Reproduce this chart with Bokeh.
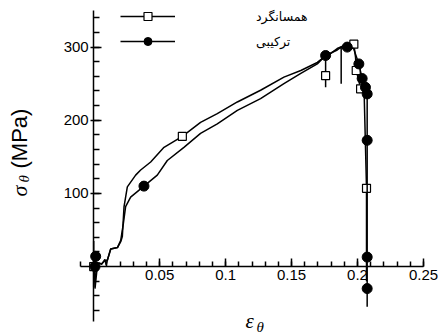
from math import pi
from bokeh.plotting import figure
from bokeh.models import (Range1d, LinearAxis, FixedTicker, Label, Legend,
                          LegendItem, PrintfTickFormatter)
from bokeh.embed import file_html
from bokeh.resources import INLINE

# ---- data ----
iso_eps = [0.0, 0.0, 0.0, 0.001, 0.004, 0.006, 0.0085, 0.0095, 0.0104, 0.0129,
           0.018, 0.0205, 0.0217, 0.023, 0.0255, 0.0318, 0.0356, 0.0432, 0.0533,
           0.0672, 0.081, 0.0937, 0.1089, 0.1265, 0.1442, 0.157, 0.1695, 0.1758,
           0.1758, 0.1758, 0.1795, 0.1846, 0.1896, 0.1947, 0.1972, 0.1985, 0.199,
           0.201, 0.2023, 0.205, 0.2068, 0.2068]
iso_sig = [0, 35, -28, 0, 5, 3, 10, 2, 9, 24,
           26, 34, 41, 82, 109, 125, 132, 143, 163,
           178, 197, 209, 225, 241, 259, 268, 279, 288,
           245, 288, 291, 298, 302, 302, 304, 286, 268,
           254, 243, 238, 107, -20]
iso_mk_eps = [0.0, 0.0672, 0.1758, 0.1972, 0.199, 0.2023, 0.2068]
iso_mk_sig = [0, 178, 261, 304, 268, 243, 107]

comb_eps = [0.0, 0.001, 0.001, 0.003, 0.006, 0.0085, 0.0104, 0.0129, 0.018,
            0.0205, 0.0225, 0.0242, 0.028, 0.0381, 0.0482, 0.0558, 0.0684,
            0.081, 0.0937, 0.1089, 0.1265, 0.1442, 0.157, 0.1695, 0.1758,
            0.1846, 0.1876, 0.1876, 0.1876, 0.1922, 0.197, 0.201, 0.2035,
            0.206, 0.2073, 0.2073, 0.2073, 0.2073, 0.2073]
comb_sig = [0, 14, -30, 5, 4, 8, 9, 24, 26,
            36, 59, 82, 95, 110, 125, 145, 163,
            182, 195, 213.5, 229.5, 250, 264, 277, 288.5,
            296, 300, 250, 300, 300, 298, 277, 257,
            245, 236, 172.6, 13, -30, -55]
comb_mk_eps = [0.0015, 0.001, 0.0381, 0.1758, 0.1922, 0.201, 0.2035, 0.206,
               0.2073, 0.2073, 0.2073, 0.2073]
comb_mk_sig = [14, 0, 110, 288.5, 300, 277, 257, 245, 236, 172.6, 13, -30]

series_names = ["همسانگرد", "ترکیبی"]

x_major = [0.05, 0.1, 0.15, 0.2, 0.25]
x_minor = [-0.01, 0.0, 0.01, 0.02, 0.03, 0.04, 0.05, 0.06, 0.07, 0.08, 0.09,
           0.1, 0.11, 0.12, 0.13, 0.14, 0.15, 0.16, 0.17, 0.18, 0.19, 0.2,
           0.21, 0.22, 0.23, 0.24, 0.25]
y_major = [100, 200, 300]
y_minor = [-60, -40, -20, 0, 20, 40, 60, 80, 100, 120, 140, 160, 180, 200,
           220, 240, 260, 280, 300, 320, 340]

# axis extents (drawn part of each axis) and the visible window around them
x_bounds = (-0.01, 0.25)
y_bounds = (-75, 350)
W, H = 438, 335
AX_L, AX_R, AX_T, AX_B = 80, 423, 10, 321   # pixel extents of the axis box
sx = (AX_R - AX_L) / (x_bounds[1] - x_bounds[0])
sy = (AX_B - AX_T) / (y_bounds[1] - y_bounds[0])
x_range = Range1d(x_bounds[0] - AX_L / sx, x_bounds[1] + (W - AX_R) / sx)
y_range = Range1d(y_bounds[0] - (H - AX_B) / sy, y_bounds[1] + AX_T / sy)

# ---- figure ----
p = figure(width=W, height=H, output_backend="svg", toolbar_location=None,
           x_range=x_range, y_range=y_range,
           x_axis_type=None, y_axis_type=None,
           min_border_left=0, min_border_right=0,
           min_border_top=0, min_border_bottom=0)
p.outline_line_color = None
p.background_fill_color = "white"
p.border_fill_color = "white"

tick_font = "Liberation Sans"

xaxis = LinearAxis(fixed_location=0, bounds=x_bounds,
                   ticker=FixedTicker(ticks=x_major, minor_ticks=x_minor),
                   formatter=PrintfTickFormatter(format="%g"))
xaxis.axis_line_width = 1.5
xaxis.major_tick_line_width = 1.5
xaxis.minor_tick_line_width = 1.5
xaxis.major_tick_in = 8
xaxis.major_tick_out = 0
xaxis.minor_tick_in = 5
xaxis.minor_tick_out = 0
xaxis.major_label_standoff = 3
xaxis.major_label_text_font = tick_font
xaxis.major_label_text_font_size = "15px"
xaxis.major_label_text_color = "black"
p.add_layout(xaxis, "below")

yaxis = LinearAxis(fixed_location=0, bounds=y_bounds,
                   ticker=FixedTicker(ticks=y_major, minor_ticks=y_minor))
yaxis.axis_line_width = 1.5
yaxis.major_tick_line_width = 1.5
yaxis.minor_tick_line_width = 1.5
yaxis.major_tick_in = 8
yaxis.major_tick_out = 3
yaxis.minor_tick_in = 6
yaxis.minor_tick_out = 0
yaxis.major_label_standoff = 2
yaxis.major_label_text_font = tick_font
yaxis.major_label_text_font_size = "15px"
yaxis.major_label_text_color = "black"
p.add_layout(yaxis, "left")

# ---- series ----
iso_line = p.line(iso_eps, iso_sig, line_color="black", line_width=1.5)
iso_sc = p.scatter(iso_mk_eps, iso_mk_sig, marker="square", size=8,
                   fill_color="white", line_color="black", line_width=1.2)
comb_line = p.line(comb_eps, comb_sig, line_color="black", line_width=1.5)
comb_sc = p.scatter(comb_mk_eps, comb_mk_sig, marker="circle", size=10,
                    fill_color="black", line_color="black")

legend = Legend(items=[LegendItem(label=series_names[0], renderers=[iso_line, iso_sc]),
                       LegendItem(label=series_names[1], renderers=[comb_line, comb_sc])],
                location=(120, H - 51), glyph_width=55, glyph_height=20, spacing=5,
                padding=0, margin=0, border_line_color=None,
                background_fill_alpha=0, label_standoff=81,
                label_text_align="right", label_text_color="black",
                label_text_font="DejaVu Sans", label_text_font_size="12.5px")
p.add_layout(legend)

# ---- axis titles ----
greek_font = "Liberation Serif"
p.add_layout(Label(x=19, y=H - 196, x_units="screen", y_units="screen",
                   text="σ", angle=pi / 2, text_font=greek_font, text_color="black",
                   text_font_style="italic", text_font_size="22px",
                   text_align="left", text_baseline="alphabetic"))
p.add_layout(Label(x=23, y=H - 182, x_units="screen", y_units="screen",
                   text="θ", angle=pi / 2, text_font=greek_font, text_color="black",
                   text_font_style="italic", text_font_size="15px",
                   text_align="left", text_baseline="alphabetic"))
p.add_layout(Label(x=19, y=H - 168, x_units="screen", y_units="screen",
                   text="(MPa)", angle=pi / 2, text_font=tick_font, text_color="black",
                   text_font_size="22px",
                   text_align="left", text_baseline="alphabetic"))
p.add_layout(Label(x=245, y=H - 320, x_units="screen", y_units="screen",
                   text="ε", text_font=greek_font, text_font_style="italic",
                   text_color="black",
                   text_font_size="21px", text_align="left",
                   text_baseline="alphabetic"))
p.add_layout(Label(x=256, y=H - 326, x_units="screen", y_units="screen",
                   text="θ", text_font=greek_font, text_font_style="italic",
                   text_color="black",
                   text_font_size="15px", text_align="left",
                   text_baseline="alphabetic"))

open("out.html", "w").write(file_html(p, INLINE))
